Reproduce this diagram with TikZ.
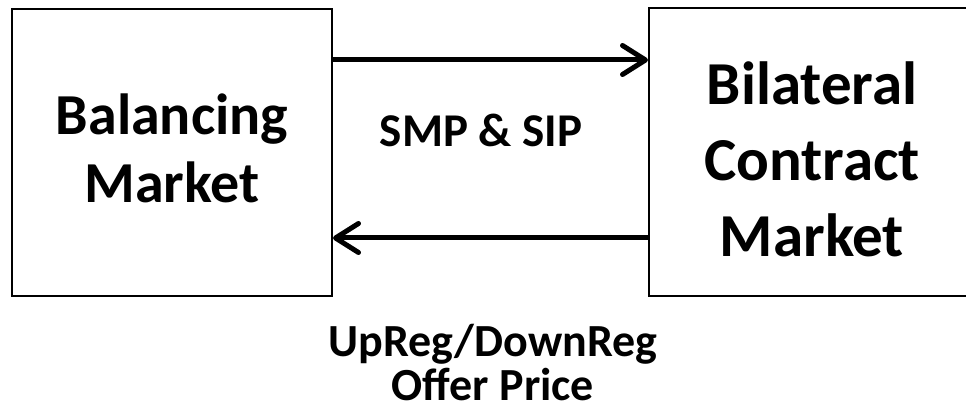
\documentclass[tikz,border=0pt]{standalone}
\usepackage{fontspec}
\setmainfont{Carlito}
\usetikzlibrary{positioning, arrows.meta}

\begin{document}
\begin{tikzpicture}[
			x=1pt, y=-1pt,
			market/.style={draw, line width=2pt, align=center, inner sep=0pt},
			flow/.style={-{Straight Barb[length=23pt, width=29pt, line cap=round, line join=round]}, line width=5pt},
			lbl/.style={align=center, font=\bfseries\fontsize{46}{42}\selectfont}
			]
			
			% Frame
			\useasboundingbox (0,0) rectangle (966,411);
			
			% Nodes
			\node[market, minimum width=320pt, minimum height=287pt,
			      font=\bfseries\fontsize{58}{68}\selectfont] (bal) at (172,152.5)
			      {\raisebox{-2pt}[\height][\depth]{\begin{tabular}{c}Balancing\\Market\end{tabular}}};
			\node[market, minimum width=326pt, minimum height=288pt,
			      font=\bfseries\fontsize{61}{76}\selectfont] (bcm) at (812,152)
			      {\raisebox{-13pt}[\height][\depth]{\begin{tabular}{c}Bilateral\\Contract\\Market\end{tabular}}};
			
			% Arrows
			\draw[flow] (bal.east |- 0,60) -- (bcm.west |- 0,60);
			\draw[flow] (bcm.west |- 0,238) -- (bal.east |- 0,238);
			
			% Labels
			\node[lbl, anchor=base, font=\bfseries\fontsize{47}{50}\selectfont] (smp) at (481,147) {SMP \& SIP};
			\node[lbl] (offer) at (493,363) {UpReg/DownReg\\[2pt]Offer Price};
			
		\end{tikzpicture}
\end{document}
